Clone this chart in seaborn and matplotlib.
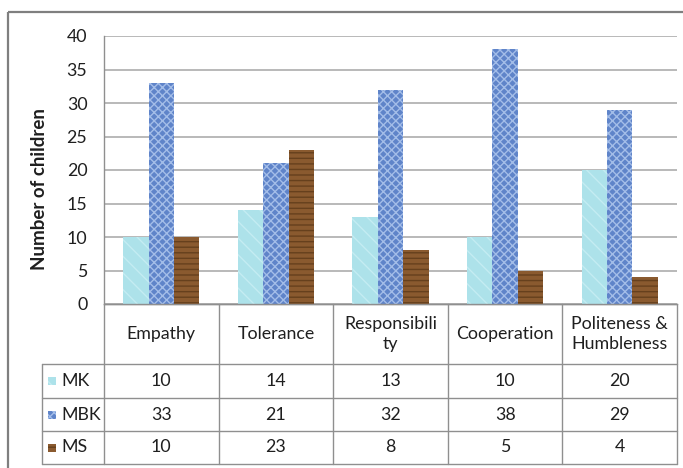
import matplotlib
matplotlib.use("Agg")
import matplotlib.pyplot as plt
import seaborn as sns
import pandas as pd
from matplotlib.patches import Rectangle
from matplotlib.lines import Line2D

# ---- data -------------------------------------------------------------
categories = ["Empathy", "Tolerance", "Responsibility", "Cooperation",
              "Politeness & Humbleness"]
header_labels = ["Empathy", "Tolerance", "Responsibili\nty", "Cooperation",
                 "Politeness &\nHumbleness"]
series = ["MK", "MBK", "MS"]
mk = [10, 14, 13, 10, 20]
mbk = [33, 21, 32, 38, 29]
ms = [10, 23, 8, 5, 4]
y_ticks = [0, 5, 10, 15, 20, 25, 30, 35, 40]

values = {"MK": mk, "MBK": mbk, "MS": ms}
df = pd.DataFrame({
    "category": [c for s in series for c in categories],
    "series": [s for s in series for _ in categories],
    "value": mk + mbk + ms,
})

# ---- style ------------------------------------------------------------
sns.set_theme(style="white")
plt.rcParams["font.family"] = ["Lato", "DejaVu Sans"]
plt.rcParams["hatch.linewidth"] = 1.0

face = {"MK": "#ade2ea", "MBK": "#5f84c9", "MS": "#8a5a2f"}
hatch = {"MK": "\\\\", "MBK": "xxxx", "MS": "---"}
hatch_col = {"MK": "#c4ecf2", "MBK": "#a3bde8", "MS": "#66401d"}
grid_col = "#a6a6a6"
line_col = "#8f8f8f"
text_col = "#1f1f1f"
fs = 12.8

W, H = 683, 468
fig = plt.figure(figsize=(W / 100, H / 100), dpi=100)
fig.patch.set_facecolor("white")

x0, x1, y_top, y_bot = 104, 677, 36, 304
ax = fig.add_axes([x0 / W, 1 - y_bot / H, (x1 - x0) / W, (y_bot - y_top) / H])

sns.barplot(data=df, x="category", y="value", hue="series",
            order=categories, hue_order=series,
            palette=face, saturation=1, width=0.665,
            legend=False, ax=ax, zorder=3)

for name, cont in zip(series, ax.containers):
    for bar in cont:
        bar.set_hatch(hatch[name])
        bar.set_edgecolor(hatch_col[name])
        bar.set_linewidth(0)

ax.set_ylim(0, 40)
ax.set_xlim(-0.5, len(categories) - 0.5)
ax.set_yticks(y_ticks)
ax.set_yticklabels([str(v) for v in y_ticks], fontsize=fs, color=text_col)
ax.tick_params(axis="y", length=0, pad=12)
ax.set_xticks([])
ax.set_xlabel("")
ax.yaxis.grid(True, color=grid_col, lw=1.1, zorder=0)
ax.set_axisbelow(True)
for side in ["top", "right"]:
    ax.spines[side].set_visible(False)
for side in ["left", "bottom"]:
    ax.spines[side].set_color(line_col)
    ax.spines[side].set_linewidth(1)
ax.set_ylabel("Number of children", fontsize=13.5, fontweight="bold",
              color=text_col)
ax.yaxis.set_label_coords(-0.097, 0.43)

# ---- data table below the plot (pixel coordinates) --------------------
ov = fig.add_axes([0, 0, 1, 1], facecolor="none")
ov.set_xlim(0, W)
ov.set_ylim(H, 0)
ov.axis("off")

# outer chart frame
ov.add_patch(Rectangle((8, 12), W + 20, H + 20, fill=False,
                       edgecolor="#7f7f7f", lw=1.6))

col_w = (x1 - x0) / len(categories)
col_edges = [x0 + i * col_w for i in range(len(categories) + 1)]
row_lines = [304, 364, 398, 431, 464]
label_left = 42

def hline(y, xa, xb):
    ov.add_line(Line2D([xa, xb], [y, y], color=line_col, lw=1))

def vline(x, ya, yb):
    ov.add_line(Line2D([x, x], [ya, yb], color=line_col, lw=1))

hline(row_lines[0], x0, x1)
for y in row_lines[1:]:
    hline(y, label_left, x1)
for x in col_edges:
    vline(x, row_lines[0], row_lines[-1])
vline(label_left, row_lines[1], row_lines[-1])

# header row
for i, lab in enumerate(header_labels):
    cx = (col_edges[i] + col_edges[i + 1]) / 2
    ov.text(cx, (row_lines[0] + row_lines[1]) / 2, lab, ha="center",
            va="center", fontsize=fs, color=text_col, linespacing=1.25)

# series rows
for r, name in enumerate(series):
    cy = (row_lines[r + 1] + row_lines[r + 2]) / 2
    ov.add_patch(Rectangle((48, cy - 4), 8, 8, facecolor=face[name],
                           edgecolor=hatch_col[name], hatch=hatch[name],
                           lw=0))
    ov.text(61, cy, name, ha="left", va="center", fontsize=fs,
            color=text_col)
    for i, v in enumerate(values[name]):
        cx = (col_edges[i] + col_edges[i + 1]) / 2
        ov.text(cx, cy, str(v), ha="center", va="center", fontsize=fs,
                color=text_col)

fig.savefig("out.png", dpi=100)
